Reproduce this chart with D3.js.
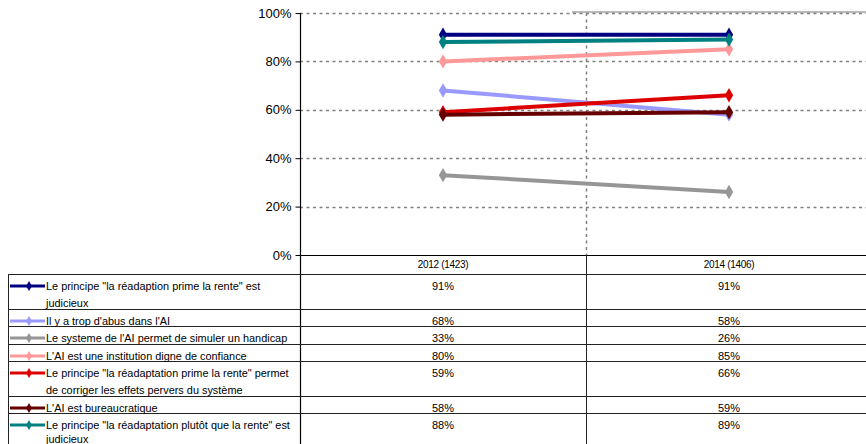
<!DOCTYPE html>
<html><head><meta charset="utf-8">
<script src="https://cdn.jsdelivr.net/npm/d3@7"></script>
<style>
html,body{margin:0;padding:0;background:#fff;}
svg{display:block;}
</style></head>
<body>
<svg id="chart" width="866" height="444"></svg>
<script>
const categories = ["2012 (1423)", "2014 (1406)"];
const seriesLabels = [
  ["Le principe \"la réadaption prime la rente\" est", "judicieux"],
  ["Il y a trop d'abus dans l'AI"],
  ["Le systeme de l'AI permet de simuler un handicap"],
  ["L'AI est une institution digne de confiance"],
  ["Le principe \"la réadaptation prime la rente\" permet", "de corriger les effets pervers du système"],
  ["L'AI est bureaucratique"],
  ["Le principe \"la réadaptation plutôt que la rente\" est", "judicieux"]
];
const values2012 = [91, 68, 33, 80, 59, 58, 88];
const values2014 = [91, 58, 26, 85, 66, 59, 89];
const seriesColors = ["#000080", "#9999FF", "#969696", "#FF9999", "#DD0000", "#660000", "#008080"];
const yTicks = [0, 20, 40, 60, 80, 100];

(function () {
const svg = d3.select("#chart");
const plotLeft = 300, plotRight = 872, plotTop = 13, plotBottom = 255;
const x = d3.scaleBand().domain(categories).range([plotLeft, plotRight]).padding(0);
const y = d3.scaleLinear().domain([0, 100]).range([plotBottom, plotTop]);
const gridColor = "#808080";

svg.append("g").selectAll("line").data(yTicks.filter(t => t > 0)).join("line")
  .attr("x1", plotLeft).attr("x2", 866)
  .attr("y1", d => Math.round(y(d)) + 0.5).attr("y2", d => Math.round(y(d)) + 0.5)
  .attr("stroke", gridColor).attr("stroke-width", 1.5).attr("stroke-dasharray", "3,3.5");
const divX = x(categories[1]);
svg.append("line").attr("x1", divX + 0.5).attr("x2", divX + 0.5)
  .attr("y1", plotTop).attr("y2", plotBottom)
  .attr("stroke", gridColor).attr("stroke-width", 1.5).attr("stroke-dasharray", "3,3.5");
svg.append("line").attr("x1", 572).attr("x2", 866).attr("y1", 12).attr("y2", 12)
  .attr("stroke", "#777").attr("stroke-width", 1);

const yAxis = d3.axisLeft(y).tickValues(yTicks).tickFormat(d => d + "%").tickSize(5).tickSizeOuter(0);
const gy = svg.append("g").attr("transform", `translate(${plotLeft + 0.5},0)`).call(yAxis);
gy.select(".domain").remove();
gy.selectAll(".tick line").attr("stroke", "#000");
gy.selectAll(".tick text").attr("font-family", "Liberation Sans, Arial, sans-serif")
  .attr("font-size", 13).attr("fill", "#000").attr("x", -9);
svg.append("line").attr("x1", plotLeft + 0.5).attr("x2", plotLeft + 0.5)
  .attr("y1", plotTop).attr("y2", 444).attr("stroke", "#000").attr("stroke-width", 1.2);
svg.append("line").attr("x1", plotLeft).attr("x2", 866).attr("y1", plotBottom + 0.5).attr("y2", plotBottom + 0.5)
  .attr("stroke", "#000").attr("stroke-width", 1.2);

const series = seriesLabels.map((lab, i) => ({
  i, color: seriesColors[i],
  pts: [{c: categories[0], v: values2012[i]}, {c: categories[1], v: values2014[i]}]
}));
const line = d3.line().x(d => x(d.c) + x.bandwidth() / 2).y(d => y(d.v));
const diamond = d3.symbol().type(d3.symbolDiamond).size(60);
series.forEach(s => {
  const g = svg.append("g");
  g.append("path").attr("d", line(s.pts)).attr("fill", "none")
    .attr("stroke", s.color).attr("stroke-width", 4);
  g.selectAll("path.m").data(s.pts).join("path").attr("class", "m")
    .attr("d", diamond)
    .attr("transform", d => `translate(${x(d.c) + x.bandwidth() / 2},${y(d.v)})`)
    .attr("fill", s.color);
});

const tableFont = "Liberation Sans, Arial, sans-serif";
const headerBottom = 274;
svg.selectAll("text.hdr").data(categories).join("text").attr("class", "hdr")
  .attr("x", d => x(d) + x.bandwidth() / 2).attr("y", 268)
  .attr("text-anchor", "middle").attr("font-family", tableFont).attr("font-size", 10)
  .attr("letter-spacing", -0.3).text(d => d);

let rowY = headerBottom;
const rowTops = [];
seriesLabels.forEach(l => { rowTops.push(rowY); rowY += l.length > 1 ? 34.5 : 17.5; });
rowTops.push(rowY);
const lineColor = "#222";
svg.selectAll("line.row").data(rowTops).join("line").attr("class", "row")
  .attr("x1", 8).attr("x2", 866).attr("y1", d => Math.round(d) + 0.5).attr("y2", d => Math.round(d) + 0.5)
  .attr("stroke", lineColor).attr("stroke-width", 1);
svg.append("line").attr("x1", 8.5).attr("x2", 8.5).attr("y1", headerBottom).attr("y2", 444).attr("stroke", lineColor);
svg.append("line").attr("x1", divX + 0.5).attr("x2", divX + 0.5).attr("y1", plotBottom).attr("y2", 444).attr("stroke", lineColor);

seriesLabels.forEach((lab, i) => {
  const t = Math.round(rowTops[i]);
  const cy = t + 12;
  svg.append("line").attr("x1", 10).attr("x2", 45).attr("y1", cy).attr("y2", cy)
    .attr("stroke", seriesColors[i]).attr("stroke-width", 3);
  svg.append("path").attr("d", d3.symbol().type(d3.symbolDiamond).size(30)())
    .attr("transform", `translate(29,${cy})`).attr("fill", seriesColors[i]);
  const tx = svg.append("text").attr("font-family", tableFont).attr("font-size", 10.9)
    .attr("fill", "#000");
  lab.forEach((ln, k) => {
    tx.append("tspan").attr("x", 46).attr("y", Math.min(t + 16 + k * 16.5, 443)).text(ln);
  });
  [values2012[i], values2014[i]].forEach((v, j) => {
    svg.append("text").attr("x", x(categories[j]) + x.bandwidth() / 2).attr("y", t + 16)
      .attr("text-anchor", "middle").attr("font-family", tableFont).attr("font-size", 11)
      .text(v + "%");
  });
});
})();
</script>
</body></html>
